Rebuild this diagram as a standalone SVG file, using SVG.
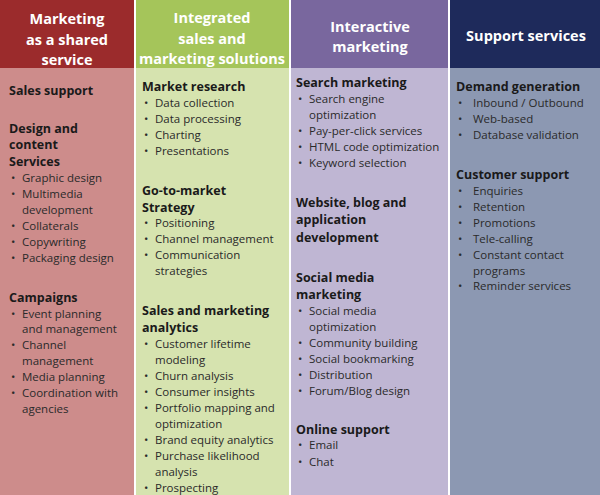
<svg xmlns="http://www.w3.org/2000/svg" width="600" height="495" viewBox="0 0 600 495">
<style>
text{font-family:"Open Sans","Liberation Sans",sans-serif;fill:#1a1a1a}
.h{font-size:14.5px;font-weight:bold;fill:#fff;text-anchor:middle}
.s{font-size:12.5px;font-weight:bold}
.b{font-size:11.5px;fill:#2a2a2a}
</style>
<rect width="600" height="495" fill="#fff"/>
<g id="col1">
<rect x="0" y="0" width="134" height="68" fill="#9b2b2c"/><rect x="0" y="68" width="134" height="427" fill="#cd8c8b"/>
<text class="h" x="67" y="24">Marketing</text><text class="h" x="67" y="45">as a shared</text><text class="h" x="67" y="65">service</text>
<text class="s" x="9" y="95">Sales support</text>
<text class="s" x="9" y="133">Design and</text><text class="s" x="9" y="149">content</text><text class="s" x="9" y="166">Services</text>
<text class="b" x="11" y="182">•</text><text class="b" x="22" y="182">Graphic design</text>
<text class="b" x="11" y="198">•</text><text class="b" x="22" y="198">Multimedia</text><text class="b" x="22" y="214">development</text>
<text class="b" x="11" y="230">•</text><text class="b" x="22" y="230">Collaterals</text>
<text class="b" x="11" y="246">•</text><text class="b" x="22" y="246">Copywriting</text>
<text class="b" x="11" y="262">•</text><text class="b" x="22" y="262">Packaging design</text>
<text class="s" x="9" y="302">Campaigns</text>
<text class="b" x="11" y="318">•</text><text class="b" x="22" y="318">Event planning</text><text class="b" x="22" y="333">and management</text>
<text class="b" x="11" y="349">•</text><text class="b" x="22" y="349">Channel</text><text class="b" x="22" y="365">management</text>
<text class="b" x="11" y="381">•</text><text class="b" x="22" y="381">Media planning</text>
<text class="b" x="11" y="397">•</text><text class="b" x="22" y="397">Coordination with</text><text class="b" x="22" y="413">agencies</text>
</g>
<g id="col2">
<rect x="136" y="0" width="153" height="68" fill="#a5c55a"/><rect x="136" y="68" width="153" height="427" fill="#d6e3af"/>
<text class="h" x="212" y="23">Integrated</text><text class="h" x="212" y="44">sales and</text><text class="h" x="212" y="64">marketing solutions</text>
<text class="s" x="142" y="91">Market research</text>
<text class="b" x="144" y="107">•</text><text class="b" x="155" y="107">Data collection</text>
<text class="b" x="144" y="123">•</text><text class="b" x="155" y="123">Data processing</text>
<text class="b" x="144" y="139">•</text><text class="b" x="155" y="139">Charting</text>
<text class="b" x="144" y="155">•</text><text class="b" x="155" y="155">Presentations</text>
<text class="s" x="142" y="195">Go-to-market</text><text class="s" x="142" y="212">Strategy</text>
<text class="b" x="144" y="227">•</text><text class="b" x="155" y="227">Positioning</text>
<text class="b" x="144" y="243">•</text><text class="b" x="155" y="243">Channel management</text>
<text class="b" x="144" y="259">•</text><text class="b" x="155" y="259">Communication</text><text class="b" x="155" y="275">strategies</text>
<text class="s" x="142" y="315">Sales and marketing</text><text class="s" x="142" y="332">analytics</text>
<text class="b" x="144" y="348">•</text><text class="b" x="155" y="348">Customer lifetime</text><text class="b" x="155" y="364">modeling</text>
<text class="b" x="144" y="380">•</text><text class="b" x="155" y="380">Churn analysis</text>
<text class="b" x="144" y="396">•</text><text class="b" x="155" y="396">Consumer insights</text>
<text class="b" x="144" y="412">•</text><text class="b" x="155" y="412">Portfolio mapping and</text><text class="b" x="155" y="428">optimization</text>
<text class="b" x="144" y="444">•</text><text class="b" x="155" y="444">Brand equity analytics</text>
<text class="b" x="144" y="460">•</text><text class="b" x="155" y="460">Purchase likelihood</text><text class="b" x="155" y="476">analysis</text>
<text class="b" x="144" y="492">•</text><text class="b" x="155" y="492">Prospecting</text>
</g>
<g id="col3">
<rect x="291" y="0" width="157" height="68" fill="#79679e"/><rect x="291" y="68" width="157" height="427" fill="#bfb6d3"/>
<text class="h" x="370" y="32">Interactive</text><text class="h" x="370" y="52">marketing</text>
<text class="s" x="296" y="87">Search marketing</text>
<text class="b" x="298" y="103">•</text><text class="b" x="309" y="103">Search engine</text><text class="b" x="309" y="119">optimization</text>
<text class="b" x="298" y="135">•</text><text class="b" x="309" y="135">Pay-per-click services</text>
<text class="b" x="298" y="151">•</text><text class="b" x="309" y="151">HTML code optimization</text>
<text class="b" x="298" y="167">•</text><text class="b" x="309" y="167">Keyword selection</text>
<text class="s" x="296" y="207">Website, blog and</text><text class="s" x="296" y="224">application</text><text class="s" x="296" y="242">development</text>
<text class="s" x="296" y="282">Social media</text><text class="s" x="296" y="299">marketing</text>
<text class="b" x="298" y="315">•</text><text class="b" x="309" y="315">Social media</text><text class="b" x="309" y="331">optimization</text>
<text class="b" x="298" y="347">•</text><text class="b" x="309" y="347">Community building</text>
<text class="b" x="298" y="363">•</text><text class="b" x="309" y="363">Social bookmarking</text>
<text class="b" x="298" y="379">•</text><text class="b" x="309" y="379">Distribution</text>
<text class="b" x="298" y="395">•</text><text class="b" x="309" y="395">Forum/Blog design</text>
<text class="s" x="296" y="434">Online support</text>
<text class="b" x="298" y="449">•</text><text class="b" x="309" y="449">Email</text>
<text class="b" x="298" y="466">•</text><text class="b" x="309" y="466">Chat</text>
</g>
<g id="col4">
<rect x="450" y="0" width="150" height="68" fill="#1e2a5b"/><rect x="450" y="68" width="150" height="427" fill="#8c98b2"/>
<text class="h" x="526" y="41">Support services</text>
<text class="s" x="456" y="91">Demand generation</text>
<text class="b" x="458" y="107">•</text><text class="b" x="473" y="107">Inbound / Outbound</text>
<text class="b" x="458" y="123">•</text><text class="b" x="473" y="123">Web-based</text>
<text class="b" x="458" y="139">•</text><text class="b" x="473" y="139">Database validation</text>
<text class="s" x="456" y="179">Customer support</text>
<text class="b" x="458" y="195">•</text><text class="b" x="473" y="195">Enquiries</text>
<text class="b" x="458" y="211">•</text><text class="b" x="473" y="211">Retention</text>
<text class="b" x="458" y="227">•</text><text class="b" x="473" y="227">Promotions</text>
<text class="b" x="458" y="243">•</text><text class="b" x="473" y="243">Tele-calling</text>
<text class="b" x="458" y="259">•</text><text class="b" x="473" y="259">Constant contact</text><text class="b" x="473" y="275">programs</text>
<text class="b" x="458" y="290">•</text><text class="b" x="473" y="290">Reminder services</text>
</g>
<g id="connectors"/>
</svg>
